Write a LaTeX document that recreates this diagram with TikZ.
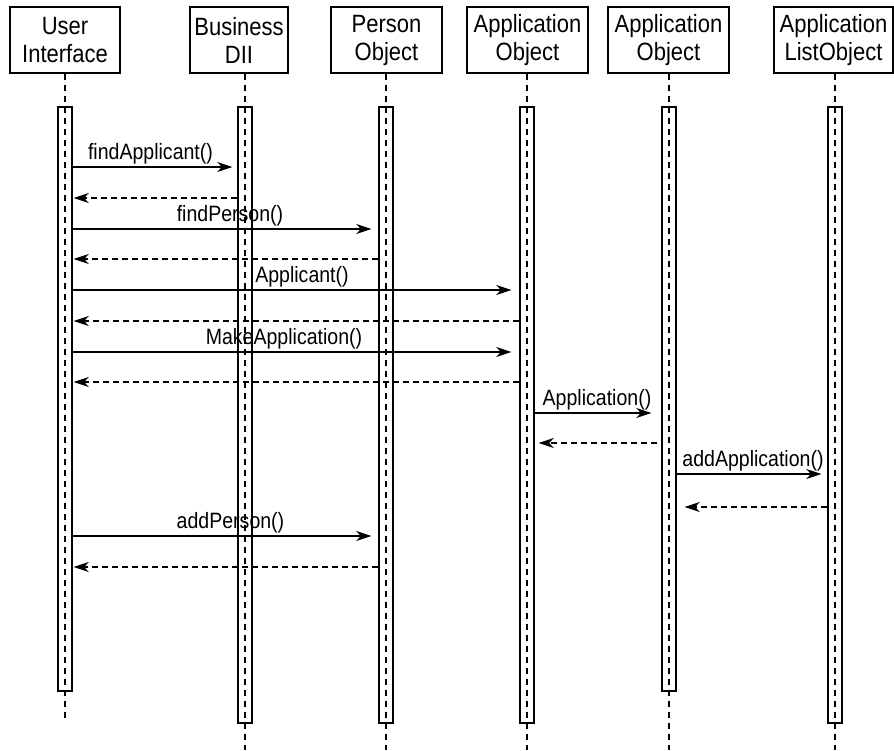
\documentclass[tikz,border=0pt]{standalone}
\usepackage{fontspec}
\setmainfont{Liberation Sans}[FakeStretch=0.88]
\usetikzlibrary{arrows.meta,calc}
\begin{document}
\begin{tikzpicture}[x=1pt,y=-1pt,
  hdr/.style={draw, line width=1.4pt, minimum height=66pt, inner sep=0pt, align=center,
    font=\fontsize{25}{28}\selectfont},
  act/.style={draw, line width=1.4pt, minimum width=14pt, inner sep=0pt},
  life/.style={line width=1.4pt, dash pattern=on 6pt off 5pt},
  msg/.style={line width=1.4pt, -{Stealth[length=15pt,width=10pt,inset=4.5pt]}},
  ret/.style={msg, dash pattern=on 6pt off 4pt},
  lbl/.style={anchor=base, inner sep=0pt, font=\fontsize{22.2}{24}\selectfont}]
\useasboundingbox (0,0) rectangle (894,750);

% headers
\node[hdr, minimum width=110pt] (hUI) at (65,40) {User\\Interface};
\node[hdr, minimum width=98pt] (hBus) at (239,40) {Business\\DII};
\node[hdr, minimum width=111pt] (hPer) at (386.5,40) {Person\\Object};
\node[hdr, minimum width=121pt] (hApp) at (527.5,40) {Application\\Object};
\node[hdr, minimum width=121pt] (hApp2) at (668.5,40) {Application\\Object};
\node[hdr, minimum width=119pt] (hList) at (833.5,40) {Application\\ListObject};

% activation boxes
\node[act, minimum height=584pt] (aUI) at (65,399) {};
\node[act, minimum height=616pt] (aBus) at (245,415) {};
\node[act, minimum height=616pt] (aPer) at (386,415) {};
\node[act, minimum height=616pt] (aApp) at (527,415) {};
\node[act, minimum height=584pt] (aApp2) at (669,399) {};
\node[act, minimum height=616pt] (aList) at (835,415) {};

% lifeline ends
\coordinate (eShort) at (0,719);
\coordinate (eLong) at (0,750);

% lifelines
\draw[life] (hUI.south -| aUI) -- (aUI |- eShort);
\draw[life] (hBus.south -| aBus) -- (aBus |- eLong);
\draw[life] (hPer.south -| aPer) -- (aPer |- eLong);
\draw[life] (hApp.south -| aApp) -- (aApp |- eLong);
\draw[life] (hApp2.south -| aApp2) -- (aApp2 |- eLong);
\draw[life] (hList.south -| aList) -- (aList |- eLong);

% message rows
\coordinate (m1) at (0,167);
\coordinate (m2) at (0,198);
\coordinate (m3) at (0,229);
\coordinate (m4) at (0,259);
\coordinate (m5) at (0,290);
\coordinate (m6) at (0,321);
\coordinate (m7) at (0,352);
\coordinate (m8) at (0,382);
\coordinate (m9) at (0,413);
\coordinate (m10) at (0,443);
\coordinate (m11) at (0,474);
\coordinate (m12) at (0,507);
\coordinate (m13) at (0,536);
\coordinate (m14) at (0,567);

% messages
\draw[msg] (aUI.east |- m1) -- ($(aBus.west |- m1)+(-5,0)$);
\draw[ret] (aBus.west |- m2) -- ($(aUI.east |- m2)+(1,0)$);
\draw[msg] (aUI.east |- m3) -- ($(aPer.west |- m3)+(-7,0)$);
\draw[ret] (aPer.west |- m4) -- ($(aUI.east |- m4)+(1,0)$);
\draw[msg] (aUI.east |- m5) -- ($(aApp.west |- m5)+(-8,0)$);
\draw[ret] (aApp.west |- m6) -- ($(aUI.east |- m6)+(1,0)$);
\draw[msg] (aUI.east |- m7) -- ($(aApp.west |- m7)+(-8,0)$);
\draw[ret] (aApp.west |- m8) -- ($(aUI.east |- m8)+(1,0)$);
\draw[msg] (aApp.east |- m9) -- ($(aApp2.west |- m9)+(-10,0)$);
\draw[ret] ($(aApp2.west |- m10)+(-4,0)$) -- ($(aApp.east |- m10)+(4,0)$);
\draw[msg] (aApp2.east |- m11) -- ($(aList.west |- m11)+(-6,0)$);
\draw[ret] (aList.west |- m12) -- ($(aApp2.east |- m12)+(8,0)$);
\draw[msg] (aUI.east |- m13) -- ($(aPer.west |- m13)+(-7,0)$);
\draw[ret] (aPer.west |- m14) -- ($(aUI.east |- m14)+(1,0)$);

% labels
\node[lbl] (l1) at (150.5,159) {findApplicant()};
\node[lbl] (l3) at (230,221) {findPerson()};
\node[lbl] (l5) at (302,282) {Applicant()};
\node[lbl] (l7) at (284,344) {MakeApplication()};
\node[lbl] (l9) at (597,405) {Application()};
\node[lbl] (l11) at (753,466) {addApplication()};
\node[lbl] (l13) at (230.5,528) {addPerson()};
\end{tikzpicture}
\end{document}
